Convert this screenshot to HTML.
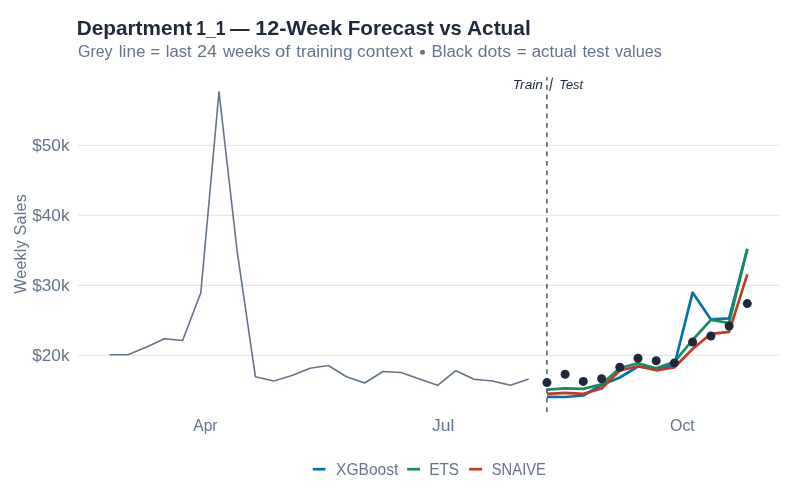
<!DOCTYPE html>
<html><head><meta charset="utf-8"><title>Department 1_1 — 12-Week Forecast vs Actual</title>
<style>html,body{margin:0;padding:0;background:#fff;width:800px;height:500px;overflow:hidden;font-family:'Liberation Sans', sans-serif}svg{will-change:transform}</style>
</head><body>
<svg width="800" height="500" viewBox="0 0 800 500" style="display:block;font-family:'Liberation Sans', sans-serif">
<rect width="800" height="500" fill="#ffffff"/>
<line x1="78" x2="779" y1="145.4" y2="145.4" stroke="#e2e8f0" stroke-width="1.2"/>
<line x1="78" x2="779" y1="215.4" y2="215.4" stroke="#e2e8f0" stroke-width="1.2"/>
<line x1="78" x2="779" y1="285.4" y2="285.4" stroke="#e2e8f0" stroke-width="1.2"/>
<line x1="78" x2="779" y1="355.4" y2="355.4" stroke="#e2e8f0" stroke-width="1.2"/>
<text x="76.83" y="35" font-size="20.5" font-weight="bold" font-style="normal" fill="#1e293b" textLength="115.23" lengthAdjust="spacingAndGlyphs">Department</text>
<text x="196.27" y="35" font-size="20.5" font-weight="bold" font-style="normal" fill="#1e293b" textLength="29.29" lengthAdjust="spacingAndGlyphs">1_1</text>
<text x="230.00" y="35" font-size="20.5" font-weight="bold" font-style="normal" fill="#1e293b" textLength="19.45" lengthAdjust="spacingAndGlyphs">—</text>
<text x="255.15" y="35" font-size="20.5" font-weight="bold" font-style="normal" fill="#1e293b" textLength="87.19" lengthAdjust="spacingAndGlyphs">12-Week</text>
<text x="347.74" y="35" font-size="20.5" font-weight="bold" font-style="normal" fill="#1e293b" textLength="86.09" lengthAdjust="spacingAndGlyphs">Forecast</text>
<text x="439.46" y="35" font-size="20.5" font-weight="bold" font-style="normal" fill="#1e293b" textLength="22.35" lengthAdjust="spacingAndGlyphs">vs</text>
<text x="466.98" y="35" font-size="20.5" font-weight="bold" font-style="normal" fill="#1e293b" textLength="63.74" lengthAdjust="spacingAndGlyphs">Actual</text>
<text x="77.98" y="56.9" font-size="16" font-weight="normal" font-style="normal" fill="#64748b" textLength="34.59" lengthAdjust="spacingAndGlyphs">Grey</text>
<text x="118.76" y="56.9" font-size="16" font-weight="normal" font-style="normal" fill="#64748b" textLength="26.74" lengthAdjust="spacingAndGlyphs">line</text>
<text x="150.51" y="56.9" font-size="16" font-weight="normal" font-style="normal" fill="#64748b" textLength="9.69" lengthAdjust="spacingAndGlyphs">=</text>
<text x="165.89" y="56.9" font-size="16" font-weight="normal" font-style="normal" fill="#64748b" textLength="25.80" lengthAdjust="spacingAndGlyphs">last</text>
<text x="197.06" y="56.9" font-size="16" font-weight="normal" font-style="normal" fill="#64748b" textLength="19.86" lengthAdjust="spacingAndGlyphs">24</text>
<text x="223.02" y="56.9" font-size="16" font-weight="normal" font-style="normal" fill="#64748b" textLength="47.40" lengthAdjust="spacingAndGlyphs">weeks</text>
<text x="275.06" y="56.9" font-size="16" font-weight="normal" font-style="normal" fill="#64748b" textLength="15.27" lengthAdjust="spacingAndGlyphs">of</text>
<text x="296.15" y="56.9" font-size="16" font-weight="normal" font-style="normal" fill="#64748b" textLength="56.35" lengthAdjust="spacingAndGlyphs">training</text>
<text x="357.13" y="56.9" font-size="16" font-weight="normal" font-style="normal" fill="#64748b" textLength="55.80" lengthAdjust="spacingAndGlyphs">context</text>
<circle cx="422.5" cy="52.2" r="2.5" fill="#64748b"/>
<text x="431.64" y="56.9" font-size="16" font-weight="normal" font-style="normal" fill="#64748b" textLength="41.02" lengthAdjust="spacingAndGlyphs">Black</text>
<text x="477.81" y="56.9" font-size="16" font-weight="normal" font-style="normal" fill="#64748b" textLength="33.24" lengthAdjust="spacingAndGlyphs">dots</text>
<text x="516.80" y="56.9" font-size="16" font-weight="normal" font-style="normal" fill="#64748b" textLength="9.78" lengthAdjust="spacingAndGlyphs">=</text>
<text x="531.80" y="56.9" font-size="16" font-weight="normal" font-style="normal" fill="#64748b" textLength="44.76" lengthAdjust="spacingAndGlyphs">actual</text>
<text x="582.47" y="56.9" font-size="16" font-weight="normal" font-style="normal" fill="#64748b" textLength="26.84" lengthAdjust="spacingAndGlyphs">test</text>
<text x="615.04" y="56.9" font-size="16" font-weight="normal" font-style="normal" fill="#64748b" textLength="46.75" lengthAdjust="spacingAndGlyphs">values</text>
<text x="32.27" y="150.9" font-size="16" font-weight="normal" font-style="normal" fill="#64748b" textLength="37.21" lengthAdjust="spacingAndGlyphs">$50k</text>
<text x="32.27" y="220.9" font-size="16" font-weight="normal" font-style="normal" fill="#64748b" textLength="37.21" lengthAdjust="spacingAndGlyphs">$40k</text>
<text x="32.27" y="290.9" font-size="16" font-weight="normal" font-style="normal" fill="#64748b" textLength="37.21" lengthAdjust="spacingAndGlyphs">$30k</text>
<text x="32.27" y="360.9" font-size="16" font-weight="normal" font-style="normal" fill="#64748b" textLength="37.21" lengthAdjust="spacingAndGlyphs">$20k</text>
<text transform="translate(26,293.8) rotate(-90)" font-size="16" fill="#64748b" textLength="99.5" lengthAdjust="spacing">Weekly Sales</text>
<text x="193.31" y="431" font-size="16" font-weight="normal" font-style="normal" fill="#64748b" textLength="24.19" lengthAdjust="spacingAndGlyphs">Apr</text>
<text x="432.06" y="431" font-size="16" font-weight="normal" font-style="normal" fill="#64748b" textLength="22.29" lengthAdjust="spacingAndGlyphs">Jul</text>
<text x="670.06" y="431" font-size="16" font-weight="normal" font-style="normal" fill="#64748b" textLength="24.66" lengthAdjust="spacingAndGlyphs">Oct</text>
<polyline fill="none" stroke="#64748b" stroke-width="1.6" stroke-linejoin="round" points="109.7,354.7 127.9,354.7 146.1,347.2 164.4,338.7 182.6,340.5 200.8,292.9 219.0,91.8 237.2,251.5 255.4,376.7 273.7,381.0 291.9,375.5 310.1,368.2 328.3,365.5 346.5,376.7 364.7,383.0 383.0,371.5 401.2,372.5 419.4,379.0 437.6,385.3 455.8,370.7 474.0,379.2 492.3,381.0 510.5,385.3 528.7,379.0"/>
<line x1="546.9" x2="546.9" y1="412" y2="76.9" stroke="#475569" stroke-width="1.5" stroke-dasharray="4.74 4.735"/>
<text x="512.75" y="88.8" font-size="12.5" font-weight="normal" font-style="italic" fill="#1e293b" textLength="30.16" lengthAdjust="spacingAndGlyphs">Train</text>
<line x1="549.8" y1="90.8" x2="552.5" y2="77.6" stroke="#1e293b" stroke-width="1.1"/>
<text x="559.33" y="88.8" font-size="12.5" font-weight="normal" font-style="italic" fill="#1e293b" textLength="23.72" lengthAdjust="spacingAndGlyphs">Test</text>
<polyline fill="none" stroke="#0273a7" stroke-width="2.7" stroke-linejoin="round" points="546.9,396.8 565.1,397.0 583.3,395.5 601.6,385.0 619.8,377.5 638.0,366.5 656.2,368.6 674.4,365.0 692.6,292.6 710.9,319.4 729.1,318.4 747.3,249.2"/>
<polyline fill="none" stroke="#198b62" stroke-width="2.7" stroke-linejoin="round" points="546.9,389.7 565.1,388.4 583.3,388.9 601.6,384.3 619.8,368.0 638.0,363.3 656.2,368.3 674.4,361.8 692.6,340.0 710.9,319.8 729.1,323.0 747.3,248.8"/>
<polyline fill="none" stroke="#c0392b" stroke-width="2.7" stroke-linejoin="round" points="546.9,393.8 565.1,392.8 583.3,393.8 601.6,388.5 619.8,370.5 638.0,366.2 656.2,370.3 674.4,367.3 692.6,349.0 710.9,333.8 729.1,331.8 747.3,274.3"/>
<circle cx="546.9" cy="382.6" r="4.5" fill="#1e293b"/>
<circle cx="565.1" cy="374.2" r="4.5" fill="#1e293b"/>
<circle cx="583.3" cy="381.4" r="4.5" fill="#1e293b"/>
<circle cx="601.6" cy="378.8" r="4.5" fill="#1e293b"/>
<circle cx="619.8" cy="367.2" r="4.5" fill="#1e293b"/>
<circle cx="638.0" cy="358.2" r="4.5" fill="#1e293b"/>
<circle cx="656.2" cy="360.7" r="4.5" fill="#1e293b"/>
<circle cx="674.4" cy="362.9" r="4.5" fill="#1e293b"/>
<circle cx="692.6" cy="342.0" r="4.5" fill="#1e293b"/>
<circle cx="710.9" cy="336.0" r="4.5" fill="#1e293b"/>
<circle cx="729.1" cy="326.0" r="4.5" fill="#1e293b"/>
<circle cx="747.3" cy="303.6" r="4.5" fill="#1e293b"/>
<line x1="312.8" x2="325.5" y1="469.2" y2="469.2" stroke="#0273a7" stroke-width="2.7"/>
<text x="336.10" y="474.7" font-size="16" font-weight="normal" font-style="normal" fill="#64748b" textLength="62.21" lengthAdjust="spacingAndGlyphs">XGBoost</text>
<line x1="407.1" x2="420" y1="469.2" y2="469.2" stroke="#198b62" stroke-width="2.7"/>
<text x="429.28" y="474.7" font-size="16" font-weight="normal" font-style="normal" fill="#64748b" textLength="29.63" lengthAdjust="spacingAndGlyphs">ETS</text>
<line x1="469.1" x2="482.1" y1="469.2" y2="469.2" stroke="#c0392b" stroke-width="2.7"/>
<text x="491.78" y="474.7" font-size="16" font-weight="normal" font-style="normal" fill="#64748b" textLength="54.20" lengthAdjust="spacingAndGlyphs">SNAIVE</text>
</svg>
</body></html>
